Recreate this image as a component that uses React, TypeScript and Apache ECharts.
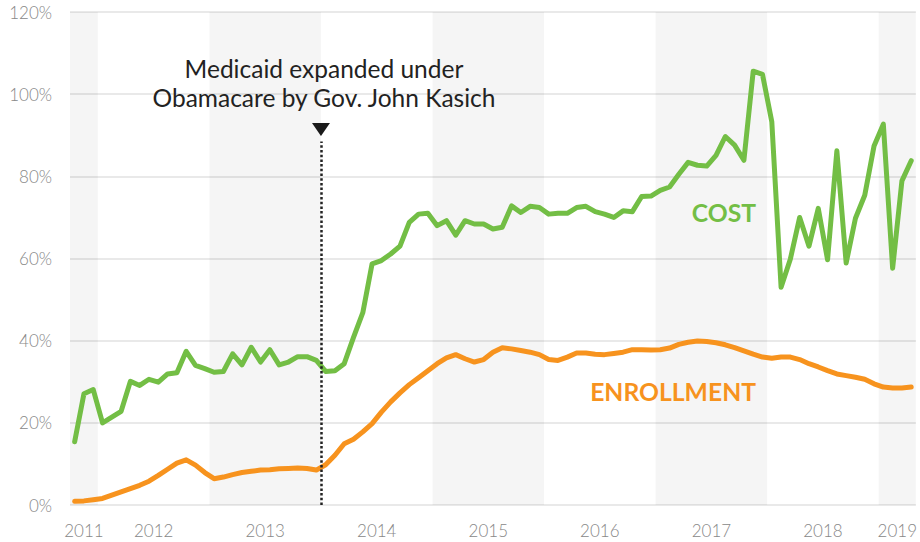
import React, { useEffect, useRef } from "react";
import * as echarts from "echarts";

// Monthly series, October 2011 through April 2019 (index 0 = Oct 2011)
const cost: number[] = [
  15.4, 27.1, 28.1, 20.0, 21.4, 22.8, 30.1, 29.1, 30.6, 29.9, 31.9, 32.2,
  37.4, 34.0, 33.2, 32.3, 32.5, 36.8, 34.1, 38.4, 34.8, 37.8, 34.1, 34.8,
  36.1, 36.1, 35.2, 32.5, 32.7, 34.4, 40.8, 46.8, 58.7, 59.5, 61.1, 63.0,
  68.8, 70.8, 71.0, 68.0, 69.2, 65.7, 69.2, 68.4, 68.4, 67.2, 67.6, 72.8,
  71.2, 72.7, 72.4, 70.8, 71.0, 71.0, 72.4, 72.7, 71.4, 70.8, 70.0, 71.6,
  71.4, 75.1, 75.2, 76.6, 77.4, 80.5, 83.4, 82.7, 82.5, 85.1, 89.7, 87.6,
  83.9, 105.6, 104.8, 93.3, 53.0, 59.9, 70.0, 63.0, 72.2, 59.7, 86.2, 58.9,
  69.8, 75.4, 87.4, 92.7, 57.6, 78.9, 83.8,
];

const enrollment: number[] = [
  0.9, 1.0, 1.3, 1.6, 2.4, 3.2, 4.0, 4.8, 5.8, 7.2, 8.7, 10.2,
  11.0, 9.7, 7.9, 6.4, 6.8, 7.4, 7.9, 8.2, 8.5, 8.6, 8.8, 8.9,
  9.0, 8.9, 8.5, 9.8, 12.1, 14.9, 16.0, 17.8, 19.8, 22.6, 25.1, 27.3,
  29.3, 31.0, 32.7, 34.4, 35.8, 36.6, 35.6, 34.8, 35.4, 37.2, 38.3, 38.0,
  37.6, 37.2, 36.6, 35.4, 35.2, 36.0, 37.0, 37.0, 36.7, 36.6, 36.9, 37.2,
  37.8, 37.8, 37.7, 37.8, 38.2, 39.1, 39.6, 39.9, 39.8, 39.5, 39.0, 38.3,
  37.5, 36.7, 36.0, 35.7, 36.0, 36.0, 35.4, 34.4, 33.6, 32.7, 31.9, 31.5,
  31.1, 30.6, 29.5, 28.7, 28.5, 28.5, 28.7,
];

// x axis is measured in months since 1 Oct 2011; axis spans Oct 2011 .. end of Apr 2019
const X_MIN = 0;
const X_MAX = 91;
const yearLabels = ["2011", "2012", "2013", "2014", "2015", "2016", "2017", "2018", "2019"];
const yearLabelAt = [1.5, 9, 21, 33, 45, 57, 69, 81, 89];
const shadedYears: [number, number][] = [
  [0, 3],
  [15, 27],
  [39, 51],
  [63, 75],
  [87, 91],
];
const expansionMonth = 27; // Jan 2014
const annotationText = "Medicaid expanded under\nObamacare by Gov. John Kasich";

const GREEN = "#73be45";
const ORANGE = "#f7931e";
const FONT = "Lato, 'Open Sans', sans-serif";

export default function App() {
  const ref = useRef<HTMLDivElement>(null);

  useEffect(() => {
    if (!ref.current) return;
    const chart = echarts.init(ref.current, undefined, { renderer: "svg" });

    const costData = cost.map((v, i) => [i + 0.5, v]);
    const enrollData = enrollment.map((v, i) => [i + 0.5, v]);

    chart.setOption({
      animation: false,
      backgroundColor: "#ffffff",
      textStyle: { fontFamily: FONT },
      grid: { left: 70, right: 0, top: 12, bottom: 37, containLabel: false },
      xAxis: {
        type: "value",
        min: X_MIN,
        max: X_MAX,
        axisLine: { show: false },
        axisTick: { show: false },
        splitLine: { show: false },
        axisLabel: {
          customValues: yearLabelAt,
          formatter: (v: number) => {
            const k = yearLabelAt.findIndex((p) => Math.abs(p - v) < 1e-6);
            return k >= 0 ? yearLabels[k] : "";
          },
          color: "#888888",
          fontSize: 17,
          fontWeight: 300,
          fontFamily: FONT,
          margin: 17,
        },
      },
      yAxis: {
        type: "value",
        min: 0,
        max: 120,
        interval: 20,
        axisLine: { show: false },
        axisTick: { show: false },
        splitLine: { lineStyle: { color: "#e2e2e2", width: 1.5 } },
        axisLabel: {
          formatter: "{value}%",
          color: "#888888",
          fontSize: 17,
          fontWeight: 300,
          fontFamily: FONT,
          margin: 18,
          padding: [11, 0, 0, 0],
        },
      },
      series: [
        {
          name: "annotations",
          type: "line",
          data: [],
          z: 1,
          silent: true,
          markArea: {
            silent: true,
            itemStyle: { color: "rgba(0,0,0,0.04)" },
            data: shadedYears.map(([a, b]) => [{ xAxis: a }, { xAxis: b }]),
          },
          markLine: {
            silent: true,
            symbol: ["none", "none"],
            label: { show: false },
            lineStyle: { color: "#222222", width: 2.5, type: [2.5, 2.2], cap: "butt" },
            data: [
              [
                { coord: [expansionMonth, 0] },
                { coord: [expansionMonth, 88.5] },
              ],
            ],
          },
          markPoint: {
            silent: true,
            data: [
              {
                coord: [expansionMonth, 91.4],
                symbol: "triangle",
                symbolRotate: 180,
                symbolSize: [18, 13],
                itemStyle: { color: "#1a1a1a" },
                label: {
                  show: true,
                  position: "top",
                  distance: 11,
                  offset: [3, 0],
                  formatter: annotationText,
                  fontSize: 24.5,
                  fontWeight: 400,
                  lineHeight: 29,
                  color: "#222222",
                  fontFamily: FONT,
                  align: "center",
                },
              },
              {
                coord: [73.8, 71.3],
                symbol: "circle",
                symbolSize: 0.1,
                itemStyle: { color: "rgba(0,0,0,0)" },
                label: {
                  show: true,
                  position: "inside",
                  align: "right",
                  verticalAlign: "middle",
                  formatter: "COST",
                  fontSize: 24.7,
                  fontWeight: "bold",
                  color: GREEN,
                  fontFamily: FONT,
                },
              },
              {
                coord: [73.8, 27.6],
                symbol: "circle",
                symbolSize: 0.1,
                itemStyle: { color: "rgba(0,0,0,0)" },
                label: {
                  show: true,
                  position: "inside",
                  align: "right",
                  verticalAlign: "middle",
                  formatter: "ENROLLMENT",
                  fontSize: 24.7,
                  fontWeight: "bold",
                  color: ORANGE,
                  fontFamily: FONT,
                },
              },
            ],
          },
        },
        {
          name: "Enrollment",
          type: "line",
          data: enrollData,
          z: 3,
          symbol: "none",
          lineStyle: { color: ORANGE, width: 5, cap: "round", join: "round" },
          itemStyle: { color: ORANGE },
        },
        {
          name: "Cost",
          type: "line",
          data: costData,
          z: 4,
          symbol: "none",
          lineStyle: { color: GREEN, width: 5, cap: "round", join: "round" },
          itemStyle: { color: GREEN },
        },
      ],
    });

    return () => chart.dispose();
  }, []);

  return (
    <div
      ref={ref}
      style={{ position: "fixed", left: 0, top: 0, width: 920, height: 542, background: "#fff" }}
    />
  );
}
